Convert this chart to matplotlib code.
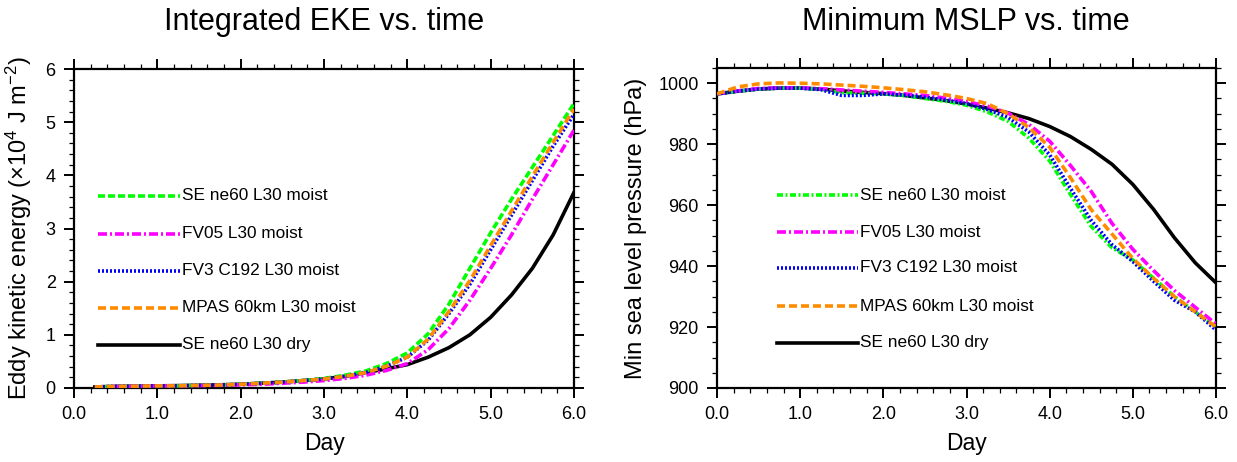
import matplotlib
matplotlib.use("Agg")
import matplotlib.pyplot as plt
import numpy as np
from matplotlib.ticker import MultipleLocator, FormatStrFormatter

plt.rcParams['font.family'] = ['Liberation Sans', 'DejaVu Sans']
plt.rcParams['mathtext.fontset'] = 'custom'
plt.rcParams['mathtext.rm'] = 'Liberation Sans'
plt.rcParams['mathtext.it'] = 'Liberation Sans'
plt.rcParams['lines.scale_dashes'] = False

# ---------------- data ----------------
labels = ["SE ne60 L30 moist", "FV05 L30 moist", "FV3 C192 L30 moist",
          "MPAS 60km L30 moist", "SE ne60 L30 dry"]
colors = ["#00ff00", "#ff00ff", "#0000ff", "#ff8c00", "#000000"]

days_eke = [0.25, 0.5, 0.75, 1.0, 1.25, 1.5, 1.75, 2.0, 2.25, 2.5, 2.75, 3.0,
            3.25, 3.5, 3.75, 4.0, 4.25, 4.5, 4.75, 5.0, 5.25, 5.5, 5.75, 6.0]
eke_se_moist = [0.02, 0.03, 0.035, 0.04, 0.04, 0.05, 0.055, 0.07, 0.09, 0.11, 0.14, 0.18,
                0.24, 0.32, 0.46, 0.66, 1.02, 1.58, 2.25, 2.92, 3.55, 4.15, 4.75, 5.35]
eke_fv05 = [0.02, 0.03, 0.035, 0.04, 0.04, 0.045, 0.05, 0.06, 0.07, 0.09, 0.11, 0.14,
            0.18, 0.24, 0.33, 0.46, 0.72, 1.12, 1.65, 2.25, 2.88, 3.55, 4.20, 4.85]
eke_fv3 = [0.02, 0.03, 0.035, 0.04, 0.04, 0.05, 0.055, 0.07, 0.09, 0.11, 0.14, 0.17,
           0.22, 0.29, 0.41, 0.58, 0.90, 1.40, 1.95, 2.60, 3.25, 3.90, 4.55, 5.15]
eke_mpas = [0.02, 0.03, 0.035, 0.04, 0.04, 0.05, 0.055, 0.07, 0.09, 0.11, 0.14, 0.17,
            0.22, 0.29, 0.41, 0.58, 0.92, 1.44, 2.02, 2.68, 3.33, 3.98, 4.62, 5.25]
eke_se_dry = [0.02, 0.03, 0.035, 0.04, 0.045, 0.05, 0.06, 0.07, 0.09, 0.11, 0.14, 0.17,
              0.22, 0.29, 0.36, 0.44, 0.58, 0.76, 1.00, 1.33, 1.75, 2.25, 2.88, 3.68]

days_ps = [0.0, 0.25, 0.5, 0.75, 1.0, 1.25, 1.5, 1.75, 2.0, 2.25, 2.5, 2.75, 3.0,
           3.25, 3.5, 3.75, 4.0, 4.25, 4.5, 4.75, 5.0, 5.25, 5.5, 5.75, 6.0]
ps_se_moist = [996.5, 997.4, 998.1, 998.4, 998.4, 998.0, 996.9, 996.7, 996.5, 996.0, 995.0, 994.1, 992.8,
               990.6, 987.5, 982.0, 974.5, 963.5, 953.0, 946.0, 942.0, 936.0, 930.0, 925.0, 920.0]
ps_fv05 = [996.5, 997.5, 998.3, 998.5, 998.5, 998.2, 997.8, 997.4, 997.0, 996.5, 996.0, 995.1, 994.0,
           992.5, 990.2, 986.5, 981.0, 973.0, 964.5, 954.0, 945.5, 938.5, 932.0, 926.5, 921.0]
ps_fv3 = [996.5, 997.4, 998.1, 998.4, 998.4, 997.9, 996.0, 996.0, 996.5, 996.1, 995.4, 994.5, 993.3,
          991.4, 988.8, 984.0, 976.5, 965.5, 955.0, 947.0, 941.5, 935.0, 928.8, 925.0, 919.0]
ps_mpas = [996.5, 998.8, 999.8, 1000.1, 1000.0, 999.8, 999.4, 999.0, 998.5, 997.9, 997.2, 996.2, 995.0,
           993.3, 990.0, 985.5, 979.0, 969.0, 958.5, 950.5, 942.5, 936.0, 930.0, 925.0, 920.0]
ps_se_dry = [996.5, 997.4, 998.1, 998.4, 998.4, 998.1, 997.5, 997.0, 996.6, 996.0, 995.2, 994.3, 993.2,
             991.8, 990.3, 988.4, 985.8, 982.5, 978.3, 973.4, 966.8, 958.6, 949.3, 941.1, 934.5]

eke_series = [eke_se_moist, eke_fv05, eke_fv3, eke_mpas, eke_se_dry]
ps_series = [ps_se_moist, ps_fv05, ps_fv3, ps_mpas, ps_se_dry]

px = 0.72  # points per pixel at dpi 100
dashes_left = [(0, (7*px, 3*px)), (0, (9*px, 3*px, 2*px, 3*px)), (0, (2*px, 2*px)),
               (0, (8*px, 4*px)), 'solid']
dashes_right = [(0, (6*px, 2.5*px, 2*px, 2.5*px)), (0, (9*px, 3*px, 2*px, 3*px)), (0, (2*px, 2*px)),
                (0, (8*px, 4*px)), 'solid']
lw = 2.6

fig = plt.figure(figsize=(12.37, 4.62), dpi=100)
W, H = 1237, 462
axL = fig.add_axes([74/W, (H-388)/H, 500/W, 319/H])
axR = fig.add_axes([717/W, (H-388)/H, 499/W, 320/H])


def style(ax):
    for s in ax.spines.values():
        s.set_linewidth(1.6)
    ax.tick_params(which='both', direction='out', top=True, right=True,
                   labeltop=False, labelright=False)
    ax.tick_params(which='major', length=7.2, width=1.4, labelsize=13, pad=6)
    ax.tick_params(which='minor', length=3.6, width=0.9)
    ax.xaxis.set_major_locator(MultipleLocator(1.0))
    ax.xaxis.set_minor_locator(MultipleLocator(0.2))
    ax.xaxis.set_major_formatter(FormatStrFormatter('%.1f'))
    ax.set_xlim(0, 6)
    ax.set_xlabel('Day', fontsize=16.5, labelpad=6)


# left panel
for d, c, ls in zip(eke_series, colors, dashes_left):
    axL.plot(days_eke, d, color=c, lw=lw, linestyle=ls, zorder=3 if c != '#000000' else 2)
style(axL)
axL.set_ylim(0, 6)
axL.yaxis.set_major_locator(MultipleLocator(1))
axL.yaxis.set_minor_locator(MultipleLocator(0.2))
axL.set_ylabel('Eddy kinetic energy (\u00d710$^{4}$ J m$^{-2}$)', fontsize=17, labelpad=8)

# right panel
for d, c, ls in zip(ps_series, colors, dashes_right):
    axR.plot(days_ps, d, color=c, lw=lw, linestyle=ls, zorder=3 if c != '#000000' else 2)
style(axR)
axR.set_ylim(900, 1005)
axR.yaxis.set_major_locator(MultipleLocator(20))
axR.yaxis.set_minor_locator(MultipleLocator(5))
axR.set_ylabel('Min sea level pressure (hPa)', fontsize=17, labelpad=8)

# legends drawn as in the reference (lines + labels inside axes)
legL_y = [0.602, 0.483, 0.367, 0.251, 0.135]
legR_y = [0.603, 0.487, 0.375, 0.256, 0.141]
for ax, ys, x0, x1, dl in [(axL, legL_y, 0.048, 0.212, dashes_left),
                           (axR, legR_y, 0.120, 0.283, dashes_right)]:
    for y, c, ls, lab in zip(ys, colors, dl, labels):
        ax.plot([x0, x1], [y, y], color=c, lw=lw, linestyle=ls, transform=ax.transAxes)
        ax.text(x1 + 0.004, y, lab, transform=ax.transAxes, fontsize=12.4,
                va='center', ha='left')

fig.text(324/W, 1 - 22/H, 'Integrated EKE vs. time', fontsize=22, ha='center', va='center')
fig.text(966/W, 1 - 22/H, 'Minimum MSLP vs. time', fontsize=22, ha='center', va='center')

fig.savefig('out.png', dpi=100)
